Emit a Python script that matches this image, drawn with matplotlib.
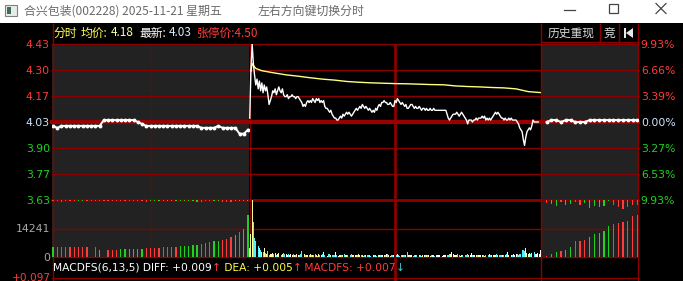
import matplotlib
matplotlib.use('Agg')
import matplotlib.pyplot as plt
from matplotlib.patches import Rectangle, Polygon
import numpy as np

plt.rcParams['font.family'] = ['DejaVu Sans', 'Noto Sans CJK SC']
CJK = ['Noto Sans CJK SC', 'DejaVu Sans']

# ---------------- data ----------------
ref_price = 4.03
limit_pct = 0.0993
left_labels = ['4.43', '4.30', '4.17', '4.03', '3.90', '3.77', '3.63']
right_labels = ['9.93%', '6.66%', '3.39%', '0.00%', '3.27%', '6.53%', '9.93%']
vol_ticks = [0, 14241]
vol_labels = ['0', '14241']

# call auction (pre-market) price dots, 47 samples
pre_price = [4.01, 4.00, 4.01, 4.01, 4.01, 4.01, 4.01, 4.01, 4.01, 4.01, 4.01, 4.01,
             4.04, 4.04, 4.04, 4.04, 4.04, 4.04, 4.04, 4.04, 4.03, 4.02,
             4.01, 4.01, 4.01, 4.01, 4.01, 4.01, 4.01, 4.01, 4.01, 4.01, 4.01, 4.01, 4.01,
             4.00, 4.00, 4.00, 4.00, 4.01, 4.00, 4.00, 4.00, 4.00, 3.97, 3.97, 3.99]
pre_vol = [5200, 5200, 5200, 5200, 5200, 5200, 5200, 5200, 5200, 0, 5200, 3500,
           0, 3500, 3500, 3500, 4000, 4000, 4000, 4000, 4000, 4000, 4300, 4300,
           4300, 4500, 4900, 5200, 5200, 5200, 5700, 5700, 5700, 5900, 6100, 6600,
           6900, 7500, 8200, 8200, 8700, 9000, 10100, 10800, 12500, 14200, 21200]
pre_dir = 'grrrrrrrrrrgrrrrggggggrrrrrrrrgggggrrrggrrrgrgg'
pre_imb = [300, 300, 1000, 300, 300, 300, -300, -300, 300, 300, 300, 300,
           300, 300, 300, 300, 300, 300, 300, 300, 300, 300, 1000, -300,
           -300, -300, -300, -300, -300, -300, -300, -300, -300, -300, -800, 1000,
           300, 300, -300, -300, 1200, 1200, 800, -300, -300, -300, -300]

# continuous session 9:30-15:00, one value per minute (241)
intra_price = [
    4.05, 4.30, 4.43, 4.33, 4.27, 4.22, 4.25, 4.20, 4.24, 4.19,
    4.23, 4.18, 4.22, 4.19, 4.21, 4.17, 4.12, 4.14, 4.16, 4.19,
    4.18, 4.20, 4.17, 4.19, 4.21, 4.19, 4.18, 4.20, 4.17, 4.16,
    4.16, 4.17, 4.15, 4.16, 4.16, 4.17, 4.16, 4.16, 4.15, 4.16,
    4.16, 4.15, 4.14, 4.13, 4.11, 4.12, 4.11, 4.13, 4.14, 4.13,
    4.14, 4.13, 4.15, 4.14, 4.13, 4.15, 4.14, 4.15, 4.13, 4.14,
    4.13, 4.14, 4.11, 4.10, 4.10, 4.09, 4.08, 4.09, 4.07, 4.06,
    4.05, 4.05, 4.04, 4.04, 4.05, 4.06, 4.05, 4.07, 4.06, 4.07,
    4.08, 4.07, 4.08, 4.07, 4.06, 4.07, 4.08, 4.09, 4.10, 4.09,
    4.10, 4.11, 4.10, 4.12, 4.11, 4.10, 4.11, 4.10, 4.09, 4.10,
    4.09, 4.08, 4.09, 4.08, 4.10, 4.09, 4.11, 4.12, 4.11, 4.13,
    4.13, 4.14, 4.13, 4.13, 4.12, 4.12, 4.13, 4.12, 4.11, 4.11,
    4.14, 4.13, 4.15, 4.14, 4.13, 4.12, 4.13, 4.12, 4.11, 4.12,
    4.10, 4.10, 4.11, 4.12, 4.12, 4.11, 4.10, 4.11, 4.10, 4.10,
    4.11, 4.10, 4.09, 4.10, 4.10, 4.09, 4.10, 4.09, 4.09, 4.10,
    4.09, 4.09, 4.10, 4.09, 4.09, 4.09, 4.09, 4.09, 4.09, 4.09,
    4.09, 4.09, 4.09, 4.07, 4.05, 4.04, 4.05, 4.06, 4.07, 4.07,
    4.07, 4.08, 4.07, 4.06, 4.07, 4.08, 4.07, 4.06, 4.05, 4.04,
    4.02, 4.04, 4.04, 4.04, 4.03, 4.04, 4.04, 4.05, 4.04, 4.05,
    4.05, 4.05, 4.06, 4.05, 4.06, 4.04, 4.05, 4.04, 4.05, 4.04,
    4.05, 4.06, 4.07, 4.08, 4.07, 4.08, 4.07, 4.06, 4.05, 4.05,
    4.04, 4.05, 4.04, 4.04, 4.05, 4.04, 4.05, 4.04, 4.04, 4.04,
    4.04, 4.03, 4.02, 4.00, 3.99, 3.98, 3.94, 3.91, 3.95, 3.98,
    3.99, 4.00, 3.99, 4.01, 4.04, 4.03, 4.03, 4.03, 4.03, 4.03, 4.03]
intra_vol = [
    4300, 11300, 30000, 17400, 9500, 7800, 6100, 5600, 4300, 3500,
    2300, 2600, 4300, 1800, 1700, 2900, 1200, 1700, 1500, 2000,
    1600, 1900, 1200, 1500, 2100, 1400, 900, 1500, 2000, 1300,
    1700, 1100, 1500, 1200, 1500, 900, 1300, 1100, 800, 1500,
    1200, 1000, 1400, 2900, 3000, 1300, 900, 1100, 800, 1000,
    1300, 900, 1200, 800, 1400, 1000, 700, 1300, 1100, 900,
    1500, 2500, 1000, 1200, 700, 1300, 1400, 900, 1100, 1200,
    800, 2400, 1000, 700, 1100, 1200, 900, 800, 1300, 1000,
    900, 1100, 700, 1000, 1300, 800, 1100, 900, 1000, 1200,
    1700, 900, 800, 1100, 700, 1000, 1200, 800, 900, 1100,
    700, 1000, 800, 1200, 900, 700, 1100, 1000, 800, 900,
    1200, 800, 1000, 1300, 1600, 900, 700, 1200, 800, 1000,
    900, 1000, 1300, 800, 700, 1100, 900, 1000, 1200, 800,
    2400, 900, 800, 1000, 1100, 700, 900, 1200, 800, 1000,
    1000, 800, 700, 1100, 900, 1000, 800, 1200, 900, 700,
    800, 1100, 900, 700, 1000, 1200, 800, 900, 1000, 700,
    1100, 800, 900, 1000, 1200, 1600, 1400, 2700, 1300, 900,
    1000, 800, 1300, 900, 700, 1100, 1000, 1200, 800, 900,
    1300, 1100, 900, 2100, 1000, 800, 1200, 900, 1000, 1100,
    800, 900, 1200, 1000, 700, 900, 1100, 800, 1300, 1000,
    900, 1200, 800, 1000, 1500, 1100, 900, 1200, 1000, 800,
    1100, 900, 1300, 2600, 1000, 900, 1200, 1100, 1400, 1000,
    1500, 1300, 1100, 1700, 1400, 3600, 3500, 2800, 4400, 1900,
    1700, 2000, 1500, 2200, 1700, 2600, 1400, 1300, 1800, 1500, 3500]
avg_minute = [1, 2, 3, 5, 10, 20, 30, 40, 50, 60, 70, 80, 90, 100, 110, 120,
              130, 140, 150, 160, 170, 180, 190, 200, 210, 220, 230, 240]
avg_price = [4.29, 4.33, 4.32, 4.305, 4.293, 4.282, 4.272, 4.265, 4.257, 4.250,
             4.245, 4.238, 4.234, 4.231, 4.229, 4.227, 4.226, 4.224, 4.222, 4.221,
             4.215, 4.212, 4.210, 4.207, 4.205, 4.200, 4.186, 4.181]

# closing auction (post-market), 20 samples
post_price = [4.03, 4.04, 4.04, 4.03, 4.04, 4.04, 4.03, 4.03, 4.03, 4.04,
              4.04, 4.04, 4.04, 4.04, 4.04, 4.04, 4.04, 4.04, 4.04, 4.04]
post_vol = [300, 1400, 2600, 2950, 3500, 5200, 7800, 8200, 8700, 9900,
            11300, 11800, 13000, 15600, 16500, 16900, 17700, 18200, 20500, 21200]
post_dir = 'rggrggrrrgggggrrrrrr'
post_imb = [1500, -2000, -3100, 1000, -2600, -2100, 1000, 2600, -1500, -4200,
            -3100, -3600, -3100, -700, 2600, 3600, 4700, 3600, 2600, 2600]

# ---------------- style ----------------
W, H = 683, 281
RED = '#ff3b3b'
GREEN = '#1ed21e'
GRID = '#8a0000'
GRAY_BG = '#222222'
label_colors = [RED, RED, RED, '#cfe6ff', GREEN, GREEN, GREEN]

fig = plt.figure(figsize=(W / 100, H / 100), dpi=100, facecolor='black')


def add_ax(x0, x1, y0, y1, z=2):
    ax = fig.add_axes([x0 / W, 1 - y1 / H, (x1 - x0) / W, (y1 - y0) / H], zorder=z)
    ax.set_facecolor('none')
    for s in ax.spines.values():
        s.set_visible(False)
    ax.set_xticks([])
    ax.set_yticks([])
    return ax


# background / decoration layer in pixel coordinates
bg = add_ax(0, W, 0, H, z=0)
bg.set_facecolor('black')
bg.set_xlim(0, W)
bg.set_ylim(H, 0)
bg.add_patch(Rectangle((0, 0), W, 23, color='white', lw=0))
bg.add_patch(Rectangle((52, 44), 197, 213, color=GRAY_BG, lw=0))
bg.add_patch(Rectangle((541, 44), 97, 213, color=GRAY_BG, lw=0))
for x, y0, y1, lw in [(52.5, 23, 281, 1), (249.5, 44, 257, 1), (394.5, 44, 281, 2),
                      (541, 23, 281, 1), (638, 23, 281, 1), (600, 23, 42, 1), (619, 23, 42, 1)]:
    bg.plot([x, x], [y0, y1], color=GRID, lw=lw, solid_capstyle='butt')
bg.plot([151, 151], [44, 257], color=GRID, lw=1, ls=(0, (1, 2)))
bg.plot([541, 638], [42, 42], color=GRID, lw=1)
bg.plot([52, 638], [278, 278], color=GRID, lw=1)

# title bar
bg.add_patch(Rectangle((5, 5), 12, 11, facecolor='#e8ece8', edgecolor='#808080', lw=0.8))
bg.add_patch(Rectangle((7, 7), 4, 7, facecolor='#3c6e5a', lw=0))
bg.text(24, 11.5, '合兴包装(002228) 2025-11-21 星期五', family=CJK, fontsize=8.6,
        color='#6a6a6a', ha='left', va='center')
bg.text(258, 11.5, '左右方向键切换分时', family=CJK, fontsize=8.6,
        color='#6a6a6a', ha='left', va='center')
bg.plot([564, 575], [9.5, 9.5], color='#444444', lw=0.9)
bg.add_patch(Rectangle((609, 4), 9, 9, facecolor='none', edgecolor='#444444', lw=0.9))
bg.plot([656, 666], [3.5, 13.5], color='#444444', lw=0.9)
bg.plot([656, 666], [13.5, 3.5], color='#444444', lw=0.9)

# header row
hy = 33
for x, s, c in [(53, '分时', '#ffff55'), (81, '均价:', '#ffff55'), (111, '4.18', '#ffffa0'),
                (139, '最新:', '#ffffff'), (169, '4.03', '#d8ecff'), (197, '张停价:4.50', RED)]:
    bg.text(x, hy, s, family=CJK, fontsize=8.5, color=c, ha='left', va='center')
bg.text(571, hy, '历史重现', family=CJK, fontsize=8.5, color='#d8d8d8', ha='center', va='center')
bg.text(609.5, hy, '竞', family=CJK, fontsize=8.5, color='#d8d8d8', ha='center', va='center')
bg.add_patch(Rectangle((623.5, 28), 2, 10, color='#e8e8e8', lw=0))
bg.add_patch(Polygon([[626, 33], [633, 28], [633, 38]], closed=True, color='#e8e8e8', lw=0))

# MACD row: pieces chained one after another
my = 268
pieces = [('MACDFS(6,13,5) DIFF: +0.009', '#ffffff'), ('↑', RED),
          (' DEA: +0.005', '#ffff40'), ('↑', RED),
          (' MACDFS: +0.007', RED), ('↓', '#40c8c8')]
prev_t = bg.text(53, my, pieces[0][0], fontsize=7.7, color=pieces[0][1], ha='left', va='center')
for s, c in pieces[1:]:
    prev_t = bg.annotate(s, xy=(1, 0.5), xycoords=prev_t, fontsize=7.7, color=c,
                         ha='left', va='center')
bg.text(51, 278, '+0.097', fontsize=7.6, color=RED, ha='right', va='center')

# ---------------- price panes ----------------
ymin, ymax = ref_price * (1 - limit_pct), ref_price * (1 + limit_pct)
ticks = np.linspace(ymax, ymin, len(left_labels))
vmax = 2 * vol_ticks[1]

n_pre, n_post, n_intra = len(pre_price), len(post_price), len(intra_price)
segments = [
    (52, 249, (-0.24, n_pre - 1 + 0.24)),
    (249, 541, (-0.6, n_intra - 1 + 0.6)),
    (541, 638, (-1.2, n_post - 1 + 0.15)),
]
price_axes, vol_axes = [], []
for x0, x1, xl in segments:
    pa = add_ax(x0, x1, 44, 200)
    pa.set_xlim(*xl)
    pa.set_ylim(ymin, ymax)
    for t in ticks:
        isref = abs(t - ref_price) < 1e-6
        pa.axhline(t, color='#9a0000' if isref else GRID, lw=3 if isref else 1,
                   clip_on=False, zorder=1)
    va = add_ax(x0, x1, 200, 257)
    va.set_xlim(*xl)
    va.set_ylim(0, vmax)
    va.axhline(vmax, color=GRID, lw=2, clip_on=False, zorder=1)
    va.axhline(vol_ticks[1], color=GRID, lw=1, clip_on=False, zorder=1)
    va.axhline(0, color=GRID, lw=1, clip_on=False, zorder=1)
    price_axes.append(pa)
    vol_axes.append(va)

ap_pre, ap_int, ap_post = price_axes
av_pre, av_int, av_post = vol_axes

# axis labels
ap_pre.set_yticks(ticks)
ap_pre.set_yticklabels(left_labels)
ap_pre.tick_params(axis='y', length=0, pad=1.5, labelsize=7.8)
for lab, c in zip(ap_pre.get_yticklabels(), label_colors):
    lab.set_color(c)
ap_post.yaxis.tick_right()
ap_post.set_yticks(ticks)
ap_post.set_yticklabels(right_labels)
ap_post.tick_params(axis='y', length=0, pad=2, labelsize=7.8)
for lab, c in zip(ap_post.get_yticklabels(), label_colors):
    lab.set_color(c)
av_pre.set_yticks(vol_ticks)
av_pre.set_yticklabels(vol_labels)
av_pre.tick_params(axis='y', length=0, pad=1.5, labelsize=7.8, labelcolor='#a8a8a8')

# price lines
xp = np.arange(n_pre)
ap_pre.plot(xp, pre_price, color='white', lw=1.4, marker='o', ms=2.8, mew=0, zorder=3)
xi = np.arange(n_intra)
ap_int.plot(xi, intra_price, color='white', lw=1.0, zorder=4)
ap_int.plot(avg_minute, avg_price, color='#ffff80', lw=1.0, zorder=3)
xq = np.arange(n_post)
ap_post.plot(xq, post_price, color='white', lw=1.4, marker='o', ms=2.8, mew=0, zorder=3)

# volume bars
cmap = {'r': RED, 'g': GREEN}
av_pre.bar(xp, pre_vol, width=0.3, color=[cmap[d] for d in pre_dir], lw=0, zorder=3)
av_pre.bar(xp, [-abs(v) for v in pre_imb], bottom=vmax, width=0.3,
           color=[RED if v > 0 else GREEN for v in pre_imb], lw=0, zorder=3)
av_post.bar(xq, post_vol, width=0.27, color=[cmap[d] for d in post_dir], lw=0, zorder=3)
av_post.bar(xq, [-abs(v) for v in post_imb], bottom=vmax, width=0.27,
            color=[RED if v > 0 else GREEN for v in post_imb], lw=0, zorder=3)

prev = [pre_price[-1]] + intra_price[:-1]
icol = []
for p, q in zip(intra_price, prev):
    icol.append('#ffff9a' if p > q else ('#4ff4ff' if p < q else '#ffffff'))
av_int.bar(xi, intra_vol, width=0.8, color=icol, lw=0, zorder=3)

fig.savefig('out.png', dpi=100, facecolor='black')
